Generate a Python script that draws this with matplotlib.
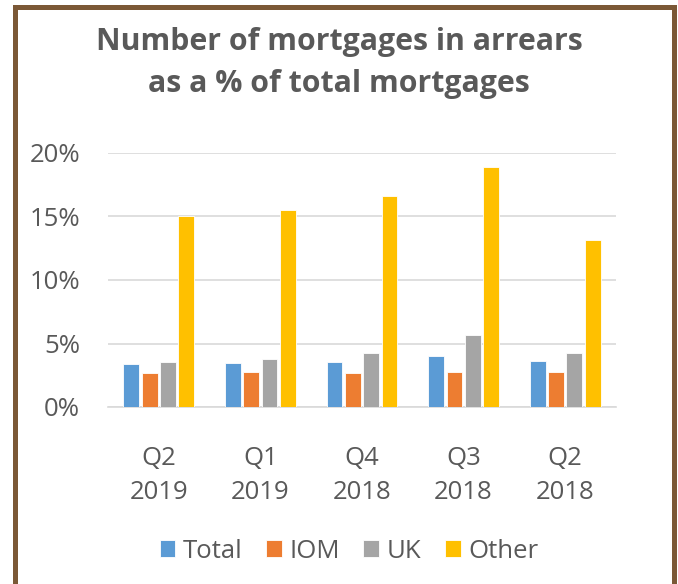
import numpy as np
import matplotlib.pyplot as plt
from matplotlib.patches import Rectangle

# datos
trimestres = ['Q2\n2019', 'Q1\n2019', 'Q4\n2018', 'Q3\n2018', 'Q2\n2018']
series = ['Total', 'IOM', 'UK', 'Other']
total = [3.35, 3.45, 3.55, 4.05, 3.65]
iom = [2.65, 2.75, 2.65, 2.75, 2.75]
uk = [3.55, 3.75, 4.25, 5.65, 4.25]
other = [15.05, 15.5, 16.6, 18.9, 13.15]
colores = ['#5B9BD5', '#ED7D31', '#A5A5A5', '#FFC000']

gris = '#595959'
plt.rcParams['font.family'] = ['Open Sans', 'DejaVu Sans']

fig = plt.figure(figsize=(6.78, 5.84), dpi=100)
ax = fig.add_axes([108 / 678, 1 - 407 / 584, 508 / 678, (407 - 153) / 584])

x = np.arange(len(trimestres))
paso = 0.18
ancho = 0.155
for i, (nombre, vals) in enumerate(zip(series, [total, iom, uk, other])):
    ax.bar(x + (i - 1.5) * paso, np.array(vals) / 100, ancho, color=colores[i],
           edgecolor='white', linewidth=0.6, label=nombre, zorder=3)

ax.set_xlim(-0.5, len(trimestres) - 0.5)
ax.set_ylim(0, 0.2)
ax.set_yticks([0, 0.05, 0.10, 0.15, 0.20])
ax.set_yticklabels(['0%', '5%', '10%', '15%', '20%'])
ax.set_xticks(x)
ax.set_xticklabels(trimestres, linespacing=1.46)
ax.tick_params(axis='y', length=0, pad=20, labelsize=18.5, labelcolor=gris)
ax.tick_params(axis='x', length=0, pad=28, labelsize=18.5, labelcolor=gris)
ax.grid(axis='y', color='#D9D9D9', linewidth=1.2, zorder=0)
for s in ['top', 'right', 'left']:
    ax.spines[s].set_visible(False)
ax.spines['bottom'].set_color('#D9D9D9')
ax.spines['bottom'].set_linewidth(1.2)

fig.text(0.5, 1 - 63 / 584, 'Number of mortgages in arrears\nas a % of total mortgages',
         ha='center', va='center', fontsize=21.8, fontweight='bold', color=gris,
         linespacing=1.48)

leg = fig.legend(loc='center', bbox_to_anchor=(349 / 678, 1 - 551 / 584), ncol=4,
                 frameon=False, fontsize=18.5, handlelength=0.62, handleheight=0.62,
                 handletextpad=0.3, columnspacing=0.9, labelcolor=gris)

# marco marrón alrededor
marco = Rectangle((14.5 / 678, -0.05), (674 - 14.5) / 678, 1.05 - 6.5 / 584,
                  transform=fig.transFigure, fill=False, edgecolor='#7B5836',
                  linewidth=3.6, clip_on=False)
fig.patches.append(marco)

fig.savefig('out.png', dpi=100)
